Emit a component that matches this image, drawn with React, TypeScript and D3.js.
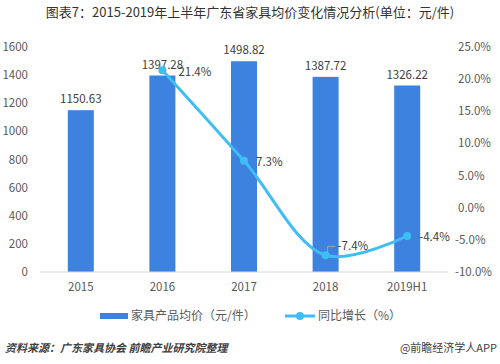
import React from "react";
import * as d3 from "d3";

const years = ["2015", "2016", "2017", "2018", "2019H1"];
const avgPrice = [1150.63, 1397.28, 1498.82, 1387.72, 1326.22];
const growth: (number | null)[] = [null, 21.4, 7.3, -7.4, -4.4];
const leftTicks = [0, 200, 400, 600, 800, 1000, 1200, 1400, 1600];
const rightTicks = [-10, -5, 0, 5, 10, 15, 20, 25];

const W = 500;
const H = 364;
const FONT = "'Noto Sans CJK SC', 'Liberation Sans', sans-serif";

export default function App() {
  const x = d3.scaleBand().domain(years).range([40, 448]).paddingInner(0).paddingOuter(0);
  const yL = d3.scaleLinear().domain([0, 1600]).range([272, 47]);
  const yR = d3.scaleLinear().domain([-10, 25]).range([272, 47]);
  const barW = 26;
  const cx = (d: string) => (x(d) ?? 0) + x.bandwidth() / 2;

  const pts = years
    .map((d, i) => ({ year: d, v: growth[i] }))
    .filter((p) => p.v !== null) as { year: string; v: number }[];

  const line = d3
    .line<{ year: string; v: number }>()
    .x((p) => cx(p.year))
    .y((p) => yR(p.v))
    .curve(d3.curveCatmullRom.alpha(0.5));

  return (
    <svg width={W} height={H} style={{ position: "absolute", left: 0, top: 0, background: "#fff" }} fontFamily={FONT}>
      <text x={250} y={17} textAnchor="middle" fontSize={13} fill="#333">
        图表7：2015-2019年上半年广东省家具均价变化情况分析(单位：元/件)
      </text>

      {/* left axis */}
      {leftTicks.map((t) => (
        <text key={t} x={28} y={yL(t)} dy="0.35em" textAnchor="end" fontSize={11.5} fill="#595959">
          {t}
        </text>
      ))}
      {/* right axis */}
      {rightTicks.map((t) => (
        <text key={t} x={t < 0 ? 455 : 458} y={yR(t)} dy="0.35em" textAnchor="start" fontSize={11.5} fill="#595959">
          {t.toFixed(1) + "%"}
        </text>
      ))}

      {/* bars */}
      {years.map((d, i) => (
        <g key={d}>
          <rect x={cx(d) - barW / 2} y={yL(avgPrice[i])} width={barW} height={272 - yL(avgPrice[i])} fill="#3D82DE" />
          <text x={cx(d)} y={yL(avgPrice[i]) - 7} textAnchor="middle" fontSize={11.5} fill="#404040">
            {avgPrice[i].toFixed(2)}
          </text>
          <text x={cx(d)} y={291} textAnchor="middle" fontSize={11.5} fill="#595959">
            {d}
          </text>
        </g>
      ))}

      <line x1={40} x2={448} y1={272} y2={272} stroke="#d9d9d9" strokeWidth={1} />

      {/* growth line */}
      <path d={line(pts) ?? ""} fill="none" stroke="#3FBDF5" strokeWidth={3} strokeLinecap="round" />
      {pts.map((p) => (
        <circle key={p.year} cx={cx(p.year)} cy={yR(p.v)} r={4} fill="#3FBDF5" />
      ))}
      {pts.map((p) => {
        let lx = cx(p.year) + 12;
        let ly = yR(p.v) + 1;
        if (p.year === "2016") {
          lx = cx(p.year) + 16;
          ly = yR(p.v) + 2;
        }
        if (p.year === "2018") {
          ly = yR(p.v) - 9;
        }
        return (
          <text key={p.year} x={lx} y={ly} dy="0.35em" fontSize={11.5} fill="#404040">
            {p.v.toFixed(1) + "%"}
          </text>
        );
      })}
      {/* leader for 2018 label */}
      <path
        d={`M${cx("2018") + 2},${yR(-7.4) - 3} L${cx("2018") + 2},${yR(-7.4) - 9} L${cx("2018") + 10},${yR(-7.4) - 9}`}
        fill="none"
        stroke="#a6a6a6"
        strokeWidth={1}
      />

      {/* legend */}
      <rect x={100} y={313} width={28} height={6} fill="#3D82DE" />
      <text x={131} y={316} dy="0.35em" fontSize={12} fill="#595959">
        家具产品均价（元/件）
      </text>
      <line x1={285} x2={315} y1={316} y2={316} stroke="#3FBDF5" strokeWidth={3} />
      <circle cx={300} cy={316} r={4} fill="#3FBDF5" />
      <text x={318} y={316} dy="0.35em" fontSize={12} fill="#595959">
        同比增长（%）
      </text>

      {/* footer */}
      <text x={5} y={352} fontSize={11} fontStyle="italic" fontWeight="bold" fill="#404040">
        资料来源：广东家具协会 前瞻产业研究院整理
      </text>
      <text x={497} y={352} textAnchor="end" fontSize={11} fill="#404040">
        @前瞻经济学人APP
      </text>
    </svg>
  );
}
